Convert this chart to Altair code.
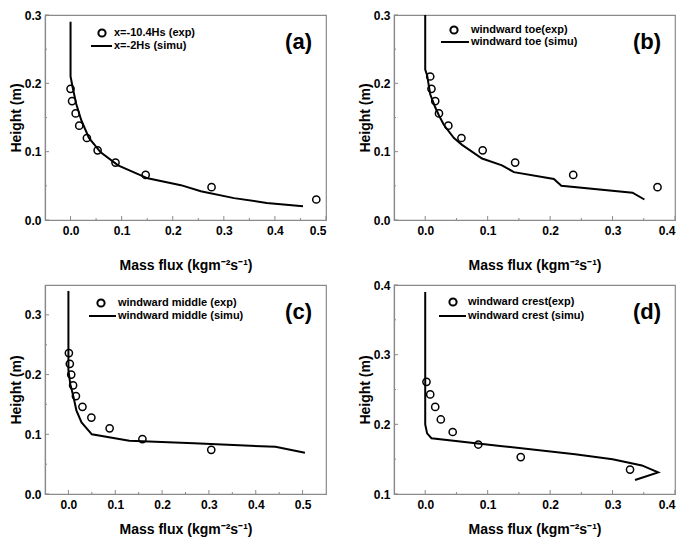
import altair as alt
import pandas as pd

FONT = "Liberation Sans"
GRAY = "#8a8a8a"

# ---------------- data ----------------
a_exp_x = [0.000, 0.003, 0.010, 0.017, 0.032, 0.053, 0.088, 0.147, 0.276, 0.481]
a_exp_y = [0.192, 0.174, 0.156, 0.138, 0.120, 0.102, 0.084, 0.066, 0.048, 0.030]
a_sim_x = [0.000, 0.000, 0.005, 0.011, 0.021, 0.036, 0.059, 0.093, 0.151, 0.216, 0.255, 0.320, 0.384, 0.455]
a_sim_y = [0.290, 0.210, 0.191, 0.170, 0.146, 0.120, 0.099, 0.080, 0.061, 0.051, 0.042, 0.032, 0.025, 0.020]

b_exp_x = [0.008, 0.010, 0.016, 0.022, 0.037, 0.058, 0.092, 0.144, 0.237, 0.372]
b_exp_y = [0.210, 0.192, 0.174, 0.156, 0.138, 0.120, 0.102, 0.084, 0.066, 0.048]
b_sim_x = [0.000, 0.000, 0.003, 0.008, 0.016, 0.022, 0.030, 0.046, 0.059, 0.091, 0.123, 0.142, 0.206, 0.218, 0.332, 0.351]
b_sim_y = [0.300, 0.220, 0.212, 0.184, 0.165, 0.153, 0.139, 0.120, 0.110, 0.090, 0.080, 0.070, 0.060, 0.050, 0.040, 0.030]

c_exp_x = [0.001, 0.003, 0.006, 0.010, 0.016, 0.030, 0.049, 0.088, 0.158, 0.305]
c_exp_y = [0.236, 0.218, 0.200, 0.182, 0.164, 0.146, 0.128, 0.110, 0.092, 0.074]
c_sim_x = [0.000, 0.000, 0.004, 0.011, 0.017, 0.028, 0.050, 0.130, 0.268, 0.442, 0.505]
c_sim_y = [0.340, 0.207, 0.184, 0.162, 0.140, 0.120, 0.100, 0.089, 0.085, 0.079, 0.069]

d_exp_x = [0.002, 0.008, 0.016, 0.025, 0.044, 0.085, 0.153, 0.328]
d_exp_y = [0.261, 0.243, 0.225, 0.207, 0.189, 0.171, 0.153, 0.135]
d_sim_x = [0.000, 0.000, 0.003, 0.010, 0.120, 0.240, 0.300, 0.347, 0.373, 0.336]
d_sim_y = [0.390, 0.200, 0.187, 0.180, 0.169, 0.157, 0.150, 0.141, 0.131, 0.120]

labels_a = ["x=-10.4Hs (exp)", "x=-2Hs (simu)"]
labels_b = ["windward toe(exp)", "windward toe (simu)"]
labels_c = ["windward middle (exp)", "windward middle (simu)"]
labels_d = ["windward crest(exp)", "windward crest (simu)"]

tags = ["(a)", "(b)", "(c)", "(d)"]

x_ticks_a = [0.0, 0.1, 0.2, 0.3, 0.4, 0.5]
x_ticks_b = [0.0, 0.1, 0.2, 0.3, 0.4]
x_ticks_c = [0.0, 0.1, 0.2, 0.3, 0.4, 0.5]
x_ticks_d = [0.0, 0.1, 0.2, 0.3, 0.4]
y_ticks_a = [0.0, 0.1, 0.2, 0.3]
y_ticks_c = [0.0, 0.1, 0.2, 0.3]
y_ticks_d = [0.1, 0.2, 0.3, 0.4]

X_TITLE = "Mass flux (kgm\u207b\u00b2s\u207b\u00b9)"
Y_TITLE = "Height (m)"

W = 281
H_TOP, H_BOT = 205, 209


def minor(ticks, lo, hi):
    out = []
    step = 0.05
    v = ticks[0] - step
    while v <= hi + 1e-9:
        if v > lo + 1e-9 and v < hi - 1e-9 and all(abs(v - t) > 1e-9 for t in ticks):
            out.append(round(v, 3))
        v += step
    return out


def panel(sx, sy, ex, ey, labels, tag, xdom, ydom, xt, yt, leg, H, tpad):
    xs = alt.Scale(domain=xdom, nice=False, zero=False)
    ys = alt.Scale(domain=ydom, nice=False, zero=False)
    xaxis = alt.Axis(values=xt, format=".1f", title=X_TITLE, tickSize=0,
                     labelPadding=5, titlePadding=tpad, grid=False)
    yaxis = alt.Axis(values=yt, format=".1f", title=Y_TITLE, tickSize=0,
                     labelPadding=4, titlePadding=1, grid=False)

    def X(f):
        return alt.X(f, scale=xs, axis=xaxis)

    def Y(f):
        return alt.Y(f, scale=ys, axis=yaxis)

    sim = pd.DataFrame({"x": sx, "y": sy, "i": list(range(len(sx)))})
    exp = pd.DataFrame({"x": ex, "y": ey})

    line = alt.Chart(sim).mark_line(color="black", strokeWidth=2).encode(
        x=X("x:Q"), y=Y("y:Q"), order=alt.Order("i:Q"),
    )
    pts = alt.Chart(exp).mark_point(shape="circle", size=52, filled=False,
                                    color="black", strokeWidth=1.5, opacity=1).encode(
        x=X("x:Q"), y=Y("y:Q"),
    )

    # inward ticks
    xmaj = pd.DataFrame({"v": xt})
    xmin = pd.DataFrame({"v": minor(xt, xdom[0], xdom[1])})
    ymaj = pd.DataFrame({"v": yt})
    ymin = pd.DataFrame({"v": minor(yt, ydom[0], ydom[1])})
    tk = dict(color=GRAY, strokeWidth=1)
    xt_maj = alt.Chart(xmaj).mark_rule(**tk).encode(
        x=X("v:Q"), y=alt.value(H), y2=alt.value(H - 4))
    xt_min = alt.Chart(xmin).mark_rule(**tk).encode(
        x=X("v:Q"), y=alt.value(H), y2=alt.value(H - 2))
    yt_maj = alt.Chart(ymaj).mark_rule(**tk).encode(
        y=Y("v:Q"), x=alt.value(0), x2=alt.value(4))
    yt_min = alt.Chart(ymin).mark_rule(**tk).encode(
        y=Y("v:Q"), x=alt.value(0), x2=alt.value(2))

    # legend
    cx, cy, tx, ly, lx1, lx2 = leg
    ldf = pd.DataFrame({"exp": [labels[0]], "sim": [labels[1]]})
    leg_pt = alt.Chart(ldf).mark_point(shape="circle", size=52, filled=False,
                                      color="black", strokeWidth=2, opacity=1).encode(
        x=alt.value(cx), y=alt.value(cy))
    leg_ln = alt.Chart(ldf).mark_rule(color="black", strokeWidth=2).encode(
        x=alt.value(lx1), x2=alt.value(lx2), y=alt.value(ly))
    leg_t1 = alt.Chart(ldf).mark_text(align="left", baseline="middle", font=FONT,
                                      fontSize=11, fontWeight="bold").encode(
        x=alt.value(tx), y=alt.value(cy), text="exp:N")
    leg_t2 = alt.Chart(ldf).mark_text(align="left", baseline="middle", font=FONT,
                                      fontSize=11, fontWeight="bold").encode(
        x=alt.value(tx), y=alt.value(ly), text="sim:N")
    tdf = pd.DataFrame({"t": [tag]})
    tag_t = alt.Chart(tdf).mark_text(align="right", baseline="middle", font=FONT,
                                     fontSize=22, fontWeight="bold").encode(
        x=alt.value(W - 14), y=alt.value(27), text="t:N")

    return alt.layer(line, pts, xt_maj, xt_min, yt_maj, yt_min,
                     leg_pt, leg_ln, leg_t1, leg_t2, tag_t).properties(width=W, height=H)


pa = panel(a_sim_x, a_sim_y, a_exp_x, a_exp_y, labels_a, tags[0], [-0.05, 0.5], [0, 0.3],
           x_ticks_a, y_ticks_a, (57, 18, 69, 31, 46, 67), H_TOP, 22)
pb = panel(b_sim_x, b_sim_y, b_exp_x, b_exp_y, labels_b, tags[1], [-0.05, 0.4], [0, 0.3],
           x_ticks_b, y_ticks_a, (60, 15, 77, 27, 47, 75), H_TOP, 22)
pc = panel(c_sim_x, c_sim_y, c_exp_x, c_exp_y, labels_c, tags[2], [-0.05, 0.55], [0, 0.35],
           x_ticks_c, y_ticks_c, (56, 18, 73, 31, 44, 71), H_BOT, 12)
pd_ = panel(d_sim_x, d_sim_y, d_exp_x, d_exp_y, labels_d, tags[3], [-0.05, 0.4], [0.1, 0.4],
            x_ticks_d, y_ticks_d, (59, 17, 74, 31, 45, 72), H_BOT, 12)

chart = alt.concat(pa, pb, pc, pd_, columns=2, spacing={"row": 65, "column": 68},
                   bounds="flush").properties(
    padding={"left": 0, "top": 0, "right": 0, "bottom": 0},
    background="white",
).configure_view(stroke=GRAY, strokeWidth=1.2).configure_axis(
    domainColor=GRAY, domainWidth=1.2,
    labelFont=FONT, labelFontSize=12, labelFontWeight="bold", labelColor="black",
    titleFont=FONT, titleFontSize=14, titleFontWeight="bold", titleColor="black",
)

chart.save("out.html", embed_options={"renderer": "svg", "actions": False})
